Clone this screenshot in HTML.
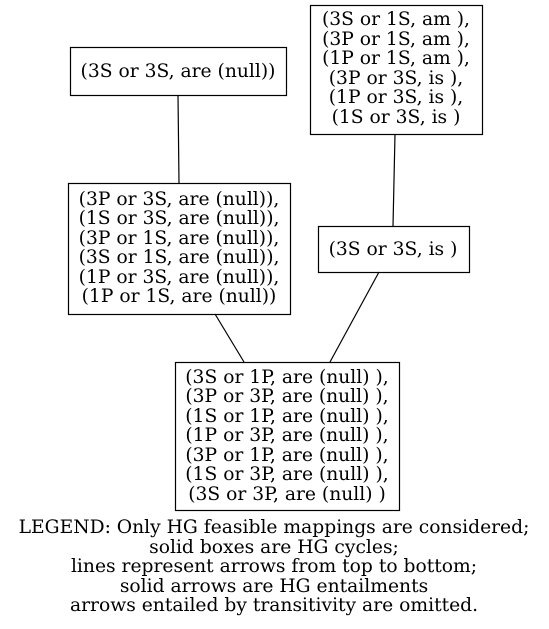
<!DOCTYPE html>
<html><head><style>body{margin:0;background:#fff}svg{display:block}</style></head>
<body>
<svg width="549" height="629" xmlns="http://www.w3.org/2000/svg" font-family="'DejaVu Serif','Liberation Serif',serif" font-size="18.7" text-anchor="middle">
<rect width="549" height="629" fill="#fff"/>
<g fill="none" stroke="#000" stroke-width="1.2">
<rect x="70.5" y="47.5" width="216" height="48"/>
<rect x="310.5" y="5.5" width="172" height="129"/>
<rect x="68.5" y="183.5" width="222" height="131"/>
<rect x="318.5" y="226.5" width="151" height="46"/>
<rect x="175.5" y="362.5" width="224" height="148"/>
<line x1="178" y1="95" x2="179" y2="183"/>
<line x1="395" y1="134" x2="393" y2="226"/>
<line x1="215" y1="314" x2="244" y2="362"/>
<line x1="379" y1="272" x2="330" y2="362"/>
</g>
<text x="178" y="77">(3S or 3S, are (null))</text>
<g>
<text x="396" y="25">(3S or 1S, am ),</text>
<text x="396" y="45">(3P or 1S, am ),</text>
<text x="396" y="64">(1P or 1S, am ),</text>
<text x="396" y="84">(3P or 3S, is ),</text>
<text x="396" y="103">(1P or 3S, is ),</text>
<text x="396" y="123">(1S or 3S, is )</text>
</g>
<g>
<text x="179" y="205">(3P or 3S, are (null)),</text>
<text x="179" y="224">(1S or 3S, are (null)),</text>
<text x="179" y="244">(3P or 1S, are (null)),</text>
<text x="179" y="263">(3S or 1S, are (null)),</text>
<text x="179" y="283">(1P or 3S, are (null)),</text>
<text x="179" y="302">(1P or 1S, are (null))</text>
</g>
<text x="393" y="255">(3S or 3S, is )</text>
<g>
<text x="287" y="383">(3S or 1P, are (null) ),</text>
<text x="287" y="402">(3P or 3P, are (null) ),</text>
<text x="287" y="422">(1S or 1P, are (null) ),</text>
<text x="287" y="441">(1P or 3P, are (null) ),</text>
<text x="287" y="461">(3P or 1P, are (null) ),</text>
<text x="287" y="480">(1S or 3P, are (null) ),</text>
<text x="287" y="500">(3S or 3P, are (null) )</text>
</g>
<g>
<text x="274" y="533">LEGEND: Only HG feasible mappings are considered;</text>
<text x="274" y="553">solid boxes are HG cycles;</text>
<text x="274" y="572">lines represent arrows from top to bottom;</text>
<text x="274" y="592">solid arrows are HG entailments</text>
<text x="274" y="611">arrows entailed by transitivity are omitted.</text>
</g>
</svg>
</body></html>
